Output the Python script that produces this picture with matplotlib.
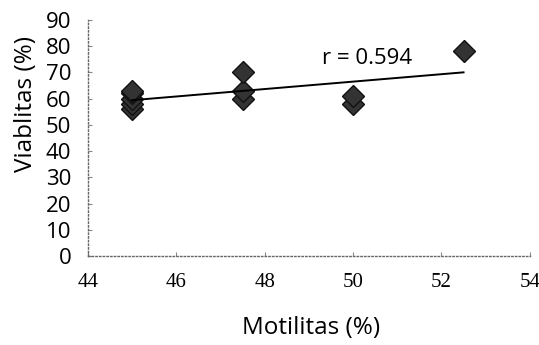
import numpy as np
import matplotlib
matplotlib.use("Agg")
import matplotlib.pyplot as plt

motilitas = [45, 45, 45, 45, 45, 47.5, 47.5, 47.5, 50, 50, 52.5]
viabilitas = [56, 58, 60, 62, 63, 60, 63, 70, 58, 61, 78]
xticks = [44, 46, 48, 50, 52, 54]
yticks = [0, 10, 20, 30, 40, 50, 60, 70, 80, 90]
r_label = "r = 0.594"

fig = plt.figure(figsize=(5.39, 3.45), dpi=100)
ax = fig.add_axes([0.163, 0.258, 0.820, 0.684])

ax.plot(motilitas, viabilitas, linestyle="none", marker="D", markersize=11.5,
        markerfacecolor="#333333", markeredgecolor="#111111", markeredgewidth=1.0, zorder=3)

slope, intercept = np.polyfit(motilitas, viabilitas, 1)
xl = np.array([min(motilitas), max(motilitas)])
ax.plot(xl, slope * xl + intercept, color="black", linewidth=1.4, zorder=4)

ax.text(49.3, 75.2, r_label, fontsize=16, family="Open Sans", va="center", ha="left")

ax.set_xlim(44, 54)
ax.set_ylim(0, 90)
ax.set_xticks(xticks)
ax.set_yticks(yticks)
ax.set_xticklabels([str(t) for t in xticks], family="Liberation Serif", fontsize=15)
ax.set_yticklabels([str(t) for t in yticks], family="Open Sans", fontsize=16)
ax.tick_params(axis="both", length=3, color="#888888", direction="in")
ax.tick_params(axis="y", pad=12)
ax.tick_params(axis="x", pad=12)

for side in ["top", "right"]:
    ax.spines[side].set_visible(False)
for side in ["left", "bottom"]:
    ax.spines[side].set_linestyle(":")
    ax.spines[side].set_color("#666666")
    ax.spines[side].set_linewidth(1.0)

ax.set_xlabel("Motilitas (%)", family="Open Sans", fontsize=17.5, va="center")
ax.set_ylabel("Viablitas (%)", family="Open Sans", fontsize=17.5, va="center")
ax.xaxis.set_label_coords(0.505, -0.305)
ax.yaxis.set_label_coords(-0.14, 0.644)

fig.savefig("out.png", dpi=100)
